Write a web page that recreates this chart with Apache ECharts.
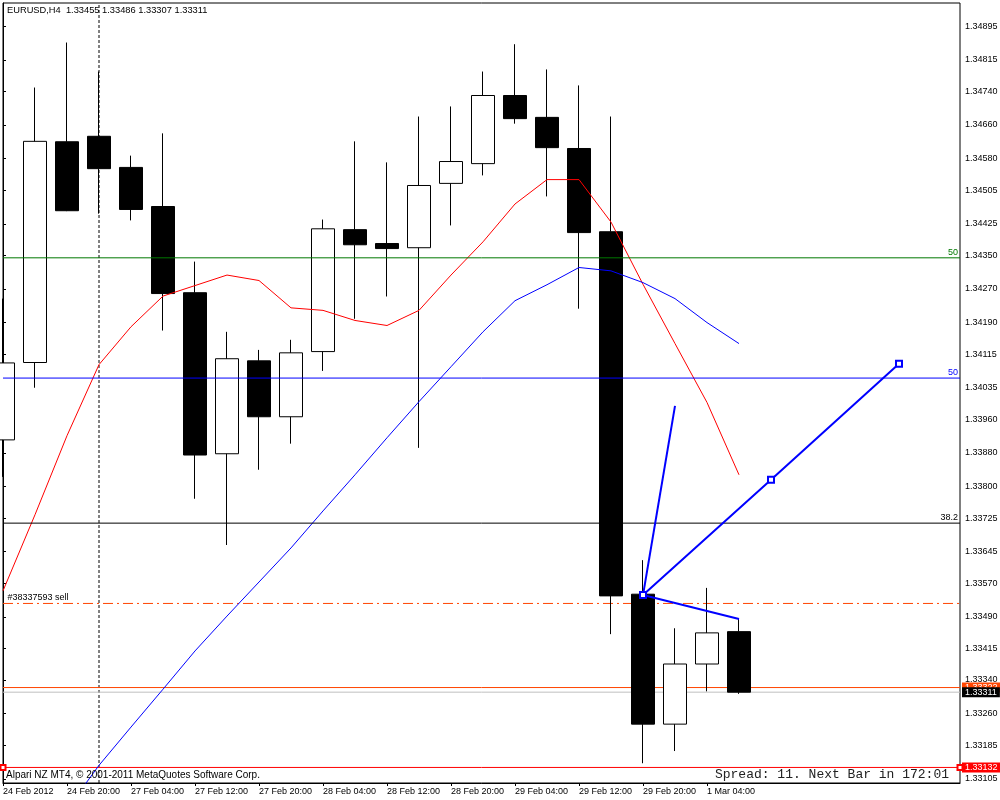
<!DOCTYPE html>
<html><head><meta charset="utf-8">
<script src="https://cdn.jsdelivr.net/npm/echarts@6/dist/echarts.min.js"></script>
<style>html,body{margin:0;padding:0;background:#fff}#c{width:1000px;height:800px}</style>
</head><body><div id="c"></div>
<script>
// ---------------- data ----------------
const symbolName = 'EURUSD,H4';
const barTimes = ['24 Feb 12:00','24 Feb 16:00','24 Feb 20:00','27 Feb 00:00','27 Feb 04:00','27 Feb 08:00',
  '27 Feb 12:00','27 Feb 16:00','27 Feb 20:00','28 Feb 00:00','28 Feb 04:00','28 Feb 08:00','28 Feb 12:00',
  '28 Feb 16:00','28 Feb 20:00','29 Feb 00:00','29 Feb 04:00','29 Feb 08:00','29 Feb 12:00','29 Feb 16:00',
  '29 Feb 20:00','1 Mar 00:00','1 Mar 04:00','1 Mar 08:00'];
const opens  = [1.33911,1.34095,1.34620,1.34633,1.34559,1.34466,1.34261,1.33878,1.34099,1.33966,1.34121,1.34411,
  1.34378,1.34368,1.34521,1.34568,1.34730,1.34678,1.34604,1.34406,1.33544,1.33235,1.33378,1.33455];
const highs  = [1.34247,1.34749,1.34856,1.34787,1.34587,1.34640,1.34335,1.34168,1.34125,1.34149,1.34435,1.34621,
  1.34571,1.34680,1.34704,1.34787,1.34852,1.34792,1.34754,1.34680,1.33625,1.33463,1.33559,1.33486];
const lows   = [1.33823,1.34035,1.34455,1.34449,1.34433,1.34171,1.33771,1.33661,1.33840,1.33902,1.34075,1.34199,
  1.34252,1.33892,1.34421,1.34540,1.34663,1.34490,1.34223,1.33449,1.33142,1.33171,1.33313,1.33307];
const closes = [1.34094,1.34621,1.34456,1.34556,1.34459,1.34259,1.33875,1.34104,1.33966,1.34118,1.34413,1.34375,
  1.34366,1.34516,1.34573,1.34730,1.34675,1.34606,1.34404,1.33540,1.33235,1.33378,1.33452,1.33311];
const maRed  = [1.33552,1.33733,1.33921,1.34090,1.34180,1.34253,1.34278,1.34303,1.34290,1.34225,1.34219,1.34195,
  1.34183,1.34219,1.34303,1.34382,1.34472,1.34530,1.34530,1.34429,1.34281,1.34140,1.34000,1.33828];
const maBlue = [null,null,1.33033,1.33137,1.33228,1.33318,1.33409,1.33492,1.33573,1.33654,1.33742,1.33828,
  1.33916,1.34002,1.34085,1.34168,1.34242,1.34280,1.34321,1.34313,1.34285,1.34247,1.34190,1.34140];
const xTickIndex  = [0,2,4,6,8,10,12,14,16,18,20,22];
const xTickLabels = ['24 Feb 2012','24 Feb 20:00','27 Feb 04:00','27 Feb 12:00','27 Feb 20:00','28 Feb 04:00',
  '28 Feb 12:00','28 Feb 20:00','29 Feb 04:00','29 Feb 12:00','29 Feb 20:00','1 Mar 04:00'];
const yTickLabels = [1.34895,1.34815,1.34740,1.34660,1.34580,1.34505,1.34425,1.34350,1.34270,1.34190,1.34115,
  1.34035,1.33960,1.33880,1.33800,1.33725,1.33645,1.33570,1.33490,1.33415,1.33340,1.33260,1.33185,1.33105];
const fiboPrices = [1.34344, 1.34058, 1.33713];
const fiboTexts  = ['50', '50', '38.2'];
const sellPrice = 1.33522, sellText = '#38337593 sell';
const askPrice = 1.33322, bidPrice = 1.33311, alertPrice = 1.33132;
const separatorIndex = 3;
const trendFan  = [[20, 1.33542], [21, 1.33992]];
const trendMain = [[20, 1.33542], [24, 1.33816], [28, 1.34092]];
const trendFlat = [[20, 1.33542], [23, 1.33485]];
const spreadText = 'Spread: 11. Next Bar in 172:01';
const footerText = 'Alpari NZ MT4, \u00A9 2001-2011 MetaQuotes Software Corp.';
const yMin = 1.33095, yMax = 1.34950, xMin = 0, xMax = 29.906;

// ---------------- chart ----------------
const FONT = '"Liberation Sans", Arial, sans-serif';
const last = barTimes.length - 1;
const titleText = symbolName + '  ' + [opens[last], highs[last], lows[last], closes[last]].map(v => v.toFixed(5)).join(' ');
const candleData = barTimes.map((t, i) => [i, opens[i], closes[i], lows[i], highs[i]]);
const toXY = arr => arr.map((v, i) => [i, v]);
const fiboColors = ['#007800', '#0000ff', '#000000'];
const hLine = p => [[xMin, p], [xMax, p]];

function hSeries(p, color, type, z, extra) {
  return Object.assign({ type: 'line', data: hLine(p), z: z, silent: true, showSymbol: false, clip: true,
    lineStyle: { color: color, width: 1, type: type }, itemStyle: { color: color } }, extra || {});
}
function priceBox(text, bg) {
  return { endLabel: { show: true, formatter: () => text, distance: 2, color: '#fff', backgroundColor: bg,
    fontSize: 9, fontFamily: FONT, lineHeight: 10, padding: [0, 3, 0, 3] } };
}

const series = [
  // background objects
  { type: 'line', data: [[separatorIndex, yMin], [separatorIndex, yMax]], z: 1, silent: true, showSymbol: false,
    lineStyle: { color: '#000', width: 1, type: [3, 2] } },
  hSeries(sellPrice, '#ff4500', [10, 4, 2, 4], 1, {
    showSymbol: true, symbol: 'circle', symbolSize: 1,
    data: [{ value: [xMin, sellPrice], itemStyle: { color: 'rgba(0,0,0,0)', borderWidth: 0 },
             label: { show: true, position: [5, -10], formatter: () => sellText, color: '#000', fontSize: 9, fontFamily: FONT } },
           { value: [xMax, sellPrice], symbolSize: 0 }] }),
  hSeries(askPrice, '#ff4500', 'solid', 1, priceBox(askPrice.toFixed(5), '#ff4500')),
  hSeries(bidPrice, '#c0c0c0', 'solid', 1, priceBox(bidPrice.toFixed(5), '#000000')),
  hSeries(alertPrice, '#ff0000', 'solid', 1, Object.assign({ showSymbol: true, symbol: 'emptyRect', symbolSize: 5 },
    priceBox(alertPrice.toFixed(5), '#ff0000'))),
  // candles
  { type: 'candlestick', data: candleData, encode: { x: 0, y: [1, 2, 3, 4] }, z: 2, barWidth: 24, clip: true,
    itemStyle: { color: '#ffffff', color0: '#000000', borderColor: '#000000', borderColor0: '#000000', borderWidth: 1 },
    emphasis: { disabled: true }, silent: true },
  // moving averages
  { type: 'line', data: toXY(maRed), z: 3, showSymbol: false, silent: true, clip: true, lineStyle: { color: '#ff0000', width: 1 } },
  { type: 'line', data: toXY(maBlue), z: 3, showSymbol: false, silent: true, clip: true, lineStyle: { color: '#0000ff', width: 1 } }
];
// fibo levels
fiboPrices.forEach((p, i) => series.push(hSeries(p, fiboColors[i], 'solid', 4, {
  endLabel: { show: true, formatter: () => fiboTexts[i], distance: 0, align: 'right', verticalAlign: 'bottom',
    padding: [0, 2, 1, 0], color: fiboColors[i], fontSize: 9, fontFamily: FONT } })));
// trend lines
series.push({ type: 'line', data: trendFan, z: 5, showSymbol: false, silent: true, lineStyle: { color: '#0000ff', width: 2 } });
series.push({ type: 'line', data: trendFlat, z: 5, showSymbol: false, silent: true, lineStyle: { color: '#0000ff', width: 2 } });
series.push({ type: 'line', data: trendMain, z: 5, showSymbol: true, symbol: 'emptyRect', symbolSize: 6, silent: true,
  lineStyle: { color: '#0000ff', width: 2 }, itemStyle: { color: '#0000ff', borderWidth: 1 } });

const chart = echarts.init(document.getElementById('c'), null, { renderer: 'canvas' });
chart.setOption({
  animation: false,
  backgroundColor: '#fff',
  grid: { left: 3, right: 40, top: 3, bottom: 17, show: true, borderColor: '#000', borderWidth: 1,
          containLabel: false, outerBoundsMode: 'none' },
  xAxis: {
    type: 'value', min: xMin, max: xMax,
    axisLine: { show: true, lineStyle: { color: '#000', width: 1 } },
    axisTick: { show: true, customValues: xTickIndex, length: 3, lineStyle: { color: '#000' } },
    axisLabel: { show: true, customValues: xTickIndex, align: 'left', margin: 4, color: '#000', fontSize: 9, fontFamily: FONT,
      formatter: v => { const k = xTickIndex.indexOf(Math.round(v)); return k >= 0 ? xTickLabels[k] : ''; } },
    splitLine: { show: false }
  },
  yAxis: {
    type: 'value', position: 'right', min: yMin, max: yMax, scale: true,
    axisLine: { show: true, lineStyle: { color: '#000', width: 1 } },
    axisTick: { show: true, customValues: yTickLabels, length: 3, lineStyle: { color: '#000' } },
    axisLabel: { show: true, customValues: yTickLabels, margin: 5, color: '#000', fontSize: 9, fontFamily: FONT,
      formatter: v => v.toFixed(5) },
    splitLine: { show: false }
  },
  graphic: [
    { type: 'text', left: 7, top: 6, z: 10, style: { text: titleText, font: '9.3px ' + FONT, fill: '#000' } },
    { type: 'text', left: 6, top: 770, z: 10, style: { text: footerText, font: '10px ' + FONT, fill: '#000' } },
    { type: 'text', right: 51, top: 768, z: 10, style: { text: spreadText, font: '13px "Liberation Mono", monospace', fill: '#222' } }
  ],
  series: series
});
</script></body></html>
